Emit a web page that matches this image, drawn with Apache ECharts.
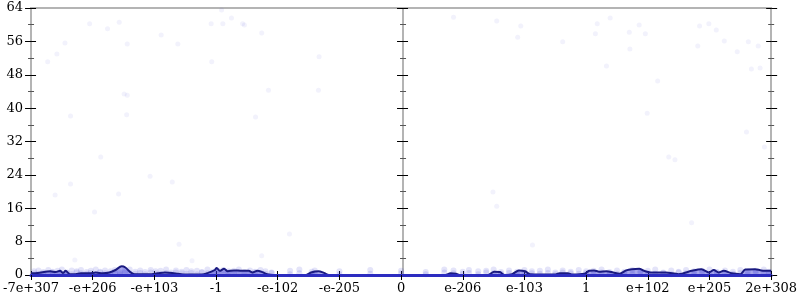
<!DOCTYPE html>
<html><head><meta charset="utf-8">
<script src="https://cdn.jsdelivr.net/npm/echarts@6/dist/echarts.min.js"></script>
<style>html,body{margin:0;padding:0;background:#fff}#c{width:800px;height:300px}</style>
</head><body><div id="c"></div>
<script>
// tick labels of the position axis (symmetric log-like float scale)
const xTickLabels = ['-7e+307','-e+206','-e+103','-1','-e-102','-e-205','0','e-206','e-103','1','e+102','e+205','2e+308'];
const yTicks = [0, 8, 16, 24, 32, 40, 48, 56, 64];

// density curve (position, count)
const densityX = [0.00,0.11,0.31,0.40,0.47,0.52,0.56,0.63,0.72,0.81,0.95,1.05,1.16,1.27,1.37,1.47,1.53,1.61,1.68,1.92,2.05,2.17,2.29,2.38,2.50,2.77,2.87,2.98,3.01,3.06,3.13,3.19,3.29,3.42,3.53,3.59,3.67,3.75,3.83,3.93,4.46,4.54,4.66,4.75,4.83,6.72,6.80,6.89,6.96,7.41,7.51,7.60,7.68,7.80,7.91,8.01,8.09,8.49,8.57,8.70,8.78,8.97,9.05,9.13,9.21,9.33,9.44,9.54,9.65,9.74,9.86,9.94,10.07,10.29,10.50,10.71,10.87,10.99,11.07,11.15,11.23,11.36,11.50,11.58,11.74,11.84,12.00];
const densityY = [0.4,0.5,0.9,0.7,1.0,0.5,1.0,0.2,0.2,0.4,0.4,0.6,0.4,0.6,1.2,2.1,1.8,0.7,0.2,0.2,0.4,0.6,0.5,0.3,0.1,0.1,0.5,1.2,1.7,1.0,1.5,0.9,1.1,1.0,1.0,0.6,1.0,0.7,0.2,0.0,0.0,0.6,0.9,0.5,0.0,0.0,0.4,0.3,0.0,0.0,0.8,0.7,0.0,0.2,1.1,0.9,0.2,0.1,0.4,0.4,0.1,0.3,1.0,1.1,0.8,0.9,0.6,0.3,1.1,1.4,1.5,1.0,0.6,0.6,0.2,1.0,1.4,0.6,1.2,0.6,1.0,0.4,0.2,1.3,1.4,1.1,1.0];

// scattered sample points (position, value)
const pointX = [0.27,0.42,0.55,0.64,0.95,1.24,1.43,1.56,1.51,1.56,1.55,2.11,2.38,3.09,3.25,2.92,3.11,3.43,3.46,3.74,2.93,4.67,3.85,4.66,3.64,6.85,7.55,7.94,7.89,8.62,9.18,9.15,9.39,9.86,9.70,9.96,9.71,9.33,10.16,9.99,10.84,10.99,11.11,11.24,10.81,11.63,11.79,11.45,11.68,11.82,11.60,11.89,1.13,0.39,0.64,1.42,1.03,1.93,2.29,2.40,0.71,2.61,4.19,3.74,7.49,7.55,8.13,10.34,10.44,10.71];
const pointY = [51.1,53.0,55.6,38.1,60.2,59.0,60.6,55.4,43.4,43.1,38.4,57.5,55.4,63.5,61.6,60.2,60.2,60.2,59.9,58.0,51.1,52.3,44.3,44.3,37.9,61.8,60.9,59.7,57.0,55.9,60.2,57.8,61.6,59.9,58.2,57.8,54.2,50.1,46.5,38.8,59.7,60.2,58.7,56.1,54.9,55.9,54.9,53.5,49.4,49.6,34.3,30.7,28.3,19.2,21.8,19.4,15.1,23.7,22.3,7.4,3.6,3.4,9.8,4.6,19.9,16.5,7.2,28.3,27.6,12.5];

// low-valued sample points forming the band along the bottom
const bandX = [0.05,0.12,0.20,0.28,0.35,0.43,0.50,0.58,0.66,0.74,0.81,0.90,0.97,1.05,1.12,1.20,1.29,1.36,1.44,1.52,1.60,1.69,1.77,1.85,1.94,2.02,2.10,2.19,2.27,2.35,2.44,2.52,2.60,2.69,2.77,2.86,2.95,3.03,3.12,3.20,3.29,3.37,3.46,3.55,3.63,3.72,3.80,3.90,4.20,4.35,4.55,4.60,5.00,5.50,6.00,6.40,6.70,6.85,7.00,7.10,7.25,7.38,7.50,7.62,7.75,7.88,8.00,8.12,8.25,8.38,8.50,8.62,8.75,8.88,9.00,9.12,9.25,9.38,9.50,9.62,9.75,9.88,10.00,10.12,10.25,10.38,10.50,10.62,10.75,10.88,11.00,11.12,11.25,11.38,11.50,11.62,11.75,11.88,11.96];
const bandY1 = [0.9,1.1,0.7,1.2,0.8,1.0,1.3,0.6,1.1,0.9,1.2,0.7,1.0,1.3,0.8,1.1,0.9,1.2,0.6,1.0,1.3,0.8,1.1,0.7,1.2,0.9,1.0,1.3,0.6,1.1,0.8,1.2,0.9,1.0,0.7,1.3,0.8,1.1,1.2,0.9,1.0,1.3,0.7,1.1,0.8,1.2,0.9,0.6,1.0,1.3,0.8,1.1,0.9,1.2,1.0,0.7,1.3,1.1,0.8,1.2,0.9,1.0,1.3,0.7,1.1,0.8,1.2,0.9,1.0,1.3,0.6,1.1,0.8,1.2,0.9,1.0,1.3,0.7,1.1,0.8,1.2,0.9,1.0,1.3,0.6,1.1,0.8,1.2,0.9,1.0,1.3,0.7,1.1,0.8,1.2,0.9,1.0,1.3,0.8];
const bandY2 = [0.4,0.3,0.5,0.2,0.6,0.4,0.3,0.5,0.2,0.6,0.4,0.3,0.5,0.2,0.6,0.4,0.3,0.5,0.2,0.6,0.4,0.3,0.5,0.2,0.6,0.4,0.3,0.5,0.2,0.6,0.4,0.3,0.5,0.2,0.6,0.4,0.3,0.5,0.2,0.6,0.4,0.3,0.5,0.2,0.6,0.4,0.3,0.5,0.2,0.4,0.3,0.5,0.2,0.3,0.4,0.2,0.6,0.4,0.3,0.5,0.2,0.6,0.4,0.3,0.5,0.2,0.6,0.4,0.3,0.5,0.2,0.6,0.4,0.3,0.5,0.2,0.6,0.4,0.3,0.5,0.2,0.6,0.4,0.3,0.5,0.2,0.6,0.4,0.3,0.5,0.2,0.6,0.4,0.3,0.5,0.2,0.6,0.4,0.3];

const zip = (a, b) => a.map((v, i) => [v, b[i]]);
const FONT = 'DejaVu Serif';
const AXIS_GREY = '#b4b4b4';

function yAx(extra) {
  return Object.assign({
    type: 'value', min: 0, max: 64, interval: 8,
    axisLine: { show: true, onZero: false, lineStyle: { color: AXIS_GREY, width: 2 } },
    axisTick: { show: true, length: 6, lineStyle: { color: '#000', width: 1 } },
    minorTick: { show: true, splitNumber: 2, length: 3, lineStyle: { color: '#555', width: 1 } },
    axisLabel: { show: false },
    splitLine: { show: false }
  }, extra);
}
function xAx(extra) {
  return Object.assign({
    type: 'value', min: 0, max: 12, interval: 1,
    axisLine: { show: true, onZero: false, lineStyle: { color: AXIS_GREY, width: 2 } },
    axisTick: { show: true, length: 5, lineStyle: { color: '#000', width: 1 } },
    axisLabel: { show: false },
    splitLine: { show: false }
  }, extra);
}

const chart = echarts.init(document.getElementById('c'), null, { renderer: 'canvas' });
chart.setOption({
  animation: false,
  backgroundColor: '#fff',
  grid: { left: 28, right: 27, top: 8, bottom: 25, containLabel: false },
  xAxis: [
    xAx({ position: 'bottom', axisLine: { show: true, onZero: false, lineStyle: { color: '#2c2cc0', width: 3 } },
      axisLabel: { show: true, margin: 7, color: '#000', fontFamily: FONT, fontSize: 13,
      formatter: v => xTickLabels[Math.round(v)] }, z: 5 }),
    xAx({ position: 'bottom', axisLine: { show: false }, axisTick: { show: true, inside: true, length: 4, lineStyle: { color: '#000' } } }),
    xAx({ position: 'top', axisTick: { show: false } })
  ],
  yAxis: [
    yAx({ position: 'left', axisLabel: { show: true, margin: 8, color: '#000', fontFamily: FONT, fontSize: 13,
      formatter: v => (yTicks.indexOf(v) >= 0 ? String(v) : '') } }),
    yAx({ position: 'left', axisTick: { show: true, inside: true, length: 5, lineStyle: { color: '#000' } } }),
    yAx({ position: 'left', offset: -372 }),
    yAx({ position: 'left', offset: -372, axisTick: { show: true, inside: true, length: 5, lineStyle: { color: '#000' } } }),
    yAx({ position: 'right' }),
    yAx({ position: 'right', axisTick: { show: true, inside: true, length: 5, lineStyle: { color: '#000' } } })
  ],
  series: [
    { type: 'scatter', xAxisIndex: 0, yAxisIndex: 0, data: zip(pointX, pointY), symbolSize: 5,
      itemStyle: { color: 'rgba(48,48,210,0.08)' }, silent: true, z: 1 },
    { type: 'scatter', xAxisIndex: 0, yAxisIndex: 0, data: zip(bandX, bandY1), symbolSize: 6,
      itemStyle: { color: 'rgba(48,48,210,0.16)' }, silent: true, z: 1 },
    { type: 'scatter', xAxisIndex: 0, yAxisIndex: 0, data: zip(bandX, bandY2), symbolSize: 6,
      itemStyle: { color: 'rgba(48,48,210,0.16)' }, silent: true, z: 1 },
    { type: 'line', xAxisIndex: 0, yAxisIndex: 0, data: zip(densityX, densityY), smooth: 0.3,
      showSymbol: false, lineStyle: { color: '#1a1a80', width: 2 },
      areaStyle: { color: 'rgba(45,45,210,0.6)', origin: 'start' }, z: 3 }
  ]
});
</script></body></html>
